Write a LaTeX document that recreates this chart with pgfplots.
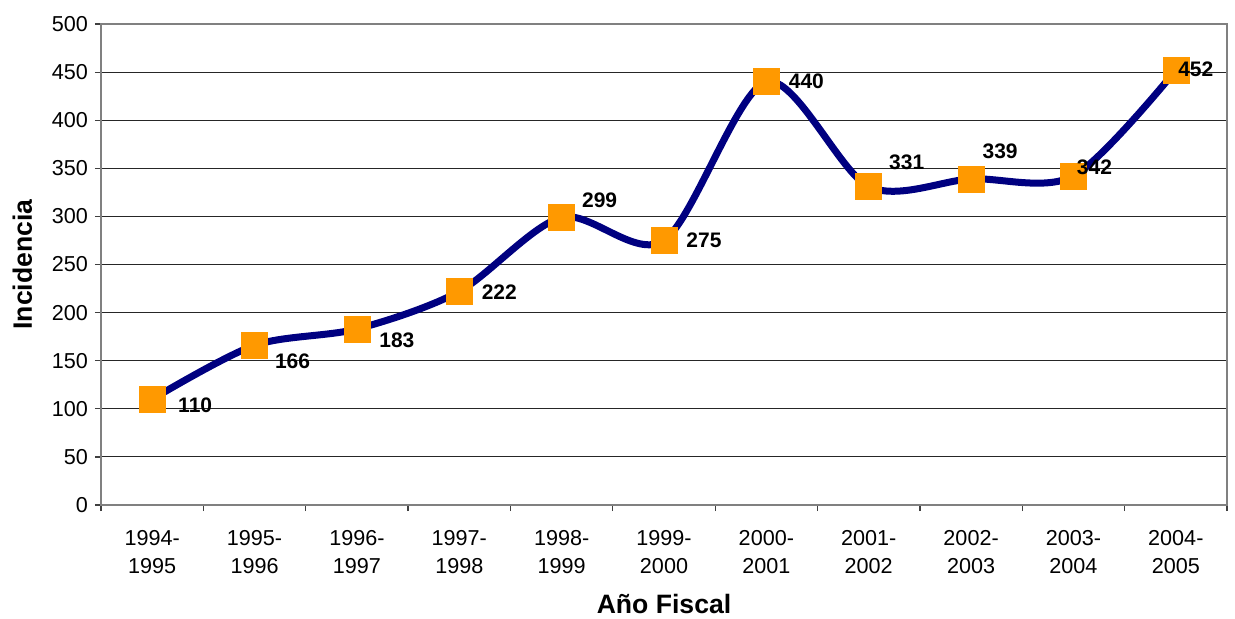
\documentclass[border=0pt]{standalone}
\usepackage{pgfplots}
\pgfplotsset{compat=1.18}
\usepackage{pgfplotstable}
\usepackage{fontspec}
\setmainfont{Liberation Sans}

\definecolor{linenavy}{RGB}{0,0,128}
\definecolor{markorange}{RGB}{255,153,0}
\definecolor{framegray}{RGB}{128,128,128}

% x, value, label offset (pt)
\pgfplotstableread{
x  y    dx    dy
0  110  21.5  -3
1  166  19    -8
2  183  20    -5.5
3  222  20    -0.5
4  299  19    8.5
5  275  20    0
6  440  20    0
7  331  19    12
8  339  14.5  14
9  342  10.5  4.5
10 452  10    0.5
}\incidencia

\begin{document}
\begin{tikzpicture}
\begin{axis}[
  at={(0,0)}, anchor=south west,
  scale only axis,
  width=563pt, height=240.5pt,
  xmin=-0.5, xmax=10.5,
  ymin=0, ymax=500,
  ytick={0,50,...,500},
  xtick={0,...,10},
  xticklabels={{1994-\\1995},{1995-\\1996},{1996-\\1997},{1997-\\1998},{1998-\\1999},{1999-\\2000},{2000-\\2001},{2001-\\2002},{2002-\\2003},{2003-\\2004},{2004-\\2005}},
  x tick label style={align=center, font=\fontsize{10.8}{14}\selectfont, yshift=-6pt},
  y tick label style={font=\fontsize{10.8}{12}\selectfont},
  /pgf/number format/assume math mode=true,
  xtick pos=bottom, ytick pos=left,
  minor xtick={-0.5,0.5,...,10.5},
  x tick style={draw=none},
  minor x tick style={draw=black!75, line width=0.6pt},
  y tick style={draw=black!75, line width=0.6pt},
  major tick length=3pt, minor tick length=3pt,
  tick align=outside,
  ymajorgrids,
  grid style={draw=black!85, line width=0.5pt},
  axis line style={draw=framegray, line width=1pt},
  xlabel={\bfseries Año Fiscal},
  ylabel={\bfseries Incidencia},
  xlabel style={font=\fontsize{13.3}{15}\selectfont, yshift=-3.5pt},
  ylabel style={font=\fontsize{13.3}{15}\selectfont, yshift=3pt},
  clip=false,
]
\addplot[
  color=linenavy, line width=3.5pt, smooth,
  mark=square*, mark size=6.5pt,
  mark options={draw=markorange, fill=markorange, line width=0.3pt},
  visualization depends on={\thisrow{dx} \as \dx},
  visualization depends on={\thisrow{dy} \as \dy},
  nodes near coords,
  point meta=explicit,
  every node near coord/.style={anchor=center, xshift=\dx pt, yshift=\dy pt,
    font=\fontsize{10.5}{12}\selectfont\bfseries, text=black},
] table[x=x, y=y, meta=y] {\incidencia};
\end{axis}
\pgfresetboundingbox
\useasboundingbox (-50.5pt,-56.5pt) rectangle (567pt,252.5pt);
\end{tikzpicture}
\end{document}
